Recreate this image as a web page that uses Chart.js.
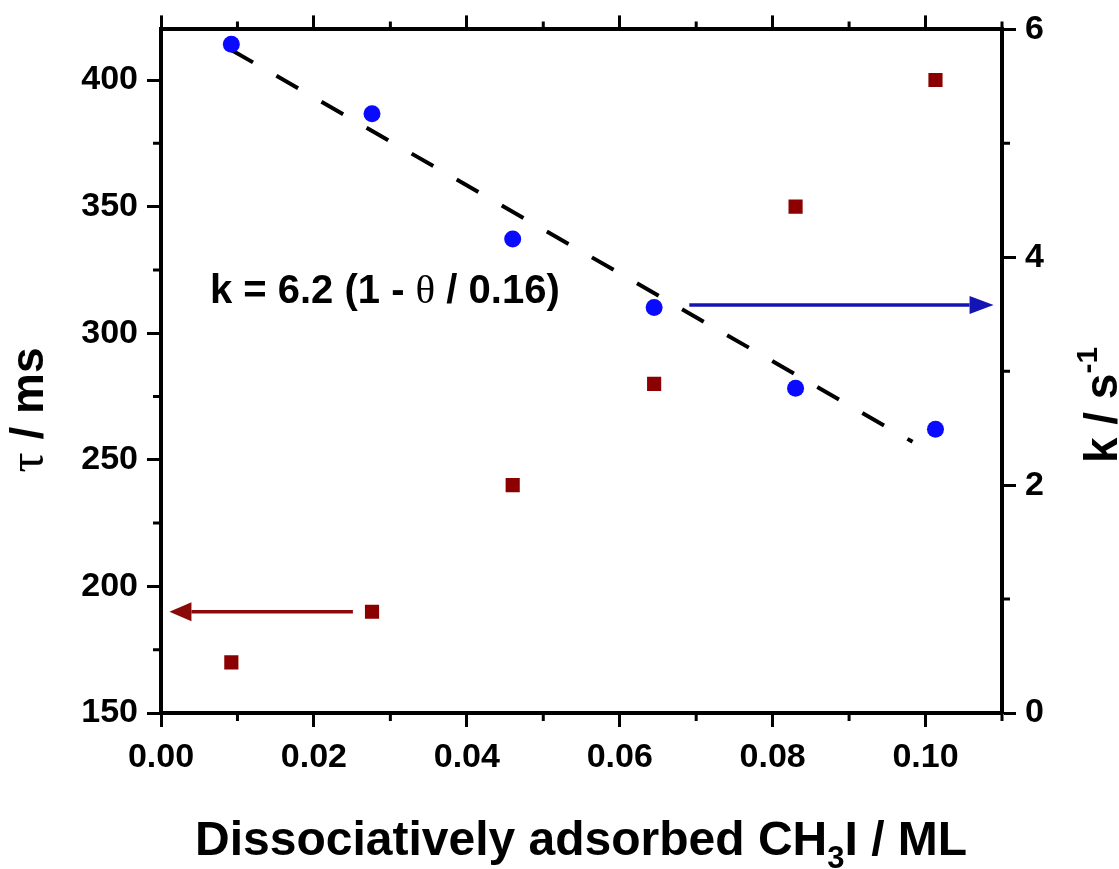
<!DOCTYPE html>
<html>
<head>
<meta charset="utf-8">
<script src="https://cdn.jsdelivr.net/npm/chart.js@4.4.0/dist/chart.umd.min.js"></script>
<style>
  html, body { margin: 0; padding: 0; background: #fff; }
  canvas { display: block; }
</style>
</head>
<body>
<canvas id="chart" width="1119" height="869"></canvas>
<script>
// data
const coverage = [0.0092, 0.0276, 0.046, 0.0645, 0.083, 0.1013];
const tauMs = [170, 190, 240, 280, 350, 400];
const kRate = [5.87, 5.26, 4.16, 3.56, 2.85, 2.49];
const fitTheta = [0.0092, 0.0983];
const fitK = [5.82, 2.38];

const xTicks = [0, 0.02, 0.04, 0.06, 0.08, 0.10];
const xMinor = [0.01, 0.03, 0.05, 0.07, 0.09, 0.11];
const tauTicks = [150, 200, 250, 300, 350, 400];
const tauMinor = [175, 225, 275, 325, 375];
const kTicks = [0, 2, 4, 6];
const kMinor = [1, 3, 5];

// arrows pointing to the axis each series belongs to
const kArrowX = [0.0691, 0.1089];
const kArrowY = 3.58;
const tauArrowX = [0.0251, 0.0011];
const tauArrowY = 190;

const SANS = '"Liberation Sans", Arial, sans-serif';
const SERIF = '"Liberation Serif", "Times New Roman", serif';

function setTicks(list) {
  return scale => { scale.ticks = list.map(v => ({ value: v })); };
}

function drawRuns(ctx, runs, x, y, align) {
  let total = 0;
  runs.forEach(r => { ctx.font = r.font; r.w = ctx.measureText(r.text).width; total += r.w; });
  let cx = align === 'center' ? x - total / 2 : x;
  runs.forEach(r => {
    ctx.font = r.font;
    ctx.fillText(r.text, cx, y + (r.dy || 0));
    cx += r.w;
  });
}

function arrow(ctx, x1, y1, x2, y2, color, headLen, headHalf) {
  const dir = Math.sign(x2 - x1);
  ctx.strokeStyle = color;
  ctx.fillStyle = color;
  ctx.lineWidth = 3.5;
  ctx.beginPath();
  ctx.moveTo(x1, y1);
  ctx.lineTo(x2 - dir * headLen, y2);
  ctx.stroke();
  ctx.beginPath();
  ctx.moveTo(x2, y2);
  ctx.lineTo(x2 - dir * headLen, y2 - headHalf);
  ctx.lineTo(x2 - dir * headLen, y2 + headHalf);
  ctx.closePath();
  ctx.fill();
}

const extras = {
  id: 'extras',
  afterDraw(chart) {
    const ctx = chart.ctx;
    const { x, y, y2 } = chart.scales;
    const area = chart.chartArea;
    ctx.save();

    // minor ticks
    ctx.strokeStyle = '#000';
    ctx.lineWidth = 3;
    ctx.beginPath();
    xMinor.forEach(v => {
      const px = x.getPixelForValue(v);
      ctx.moveTo(px, area.bottom); ctx.lineTo(px, area.bottom + 8);
      ctx.moveTo(px, area.top); ctx.lineTo(px, area.top - 8);
    });
    tauMinor.forEach(v => {
      const py = y.getPixelForValue(v);
      ctx.moveTo(area.left, py); ctx.lineTo(area.left - 8, py);
    });
    kMinor.forEach(v => {
      const py = y2.getPixelForValue(v);
      ctx.moveTo(area.right, py); ctx.lineTo(area.right + 8, py);
    });
    ctx.stroke();

    // arrows
    arrow(ctx, x.getPixelForValue(kArrowX[0]), y2.getPixelForValue(kArrowY),
          x.getPixelForValue(kArrowX[1]), y2.getPixelForValue(kArrowY), '#1414b4', 24, 9);
    arrow(ctx, x.getPixelForValue(tauArrowX[0]), y.getPixelForValue(tauArrowY),
          x.getPixelForValue(tauArrowX[1]), y.getPixelForValue(tauArrowY), '#8a0a0a', 22, 9.5);

    ctx.fillStyle = '#000';
    ctx.textBaseline = 'alphabetic';

    // fit annotation
    drawRuns(ctx, [
      { text: 'k = 6.2 (1 - ', font: 'bold 40px ' + SANS },
      { text: 'θ', font: '41px ' + SERIF },
      { text: ' / 0.16)', font: 'bold 40px ' + SANS }
    ], x.getPixelForValue(0.0064), y2.getPixelForValue(3.6), 'left');

    // bottom title
    drawRuns(ctx, [
      { text: 'Dissociatively adsorbed CH', font: 'bold 48px ' + SANS },
      { text: '3', font: 'bold 31px ' + SANS, dy: 13 },
      { text: 'I / ML', font: 'bold 48px ' + SANS }
    ], 195, 855, 'left');

    // left title
    ctx.save();
    ctx.translate(43, 410);
    ctx.rotate(-Math.PI / 2);
    drawRuns(ctx, [
      { text: 'τ', font: '50px ' + SERIF },
      { text: ' / ms', font: 'bold 46px ' + SANS }
    ], 0, 0, 'center');
    ctx.restore();

    // right title
    ctx.save();
    ctx.translate(1117, 405);
    ctx.rotate(-Math.PI / 2);
    drawRuns(ctx, [
      { text: 'k / s', font: 'bold 46px ' + SANS },
      { text: '-1', font: 'bold 30px ' + SANS, dy: -20 }
    ], 0, 0, 'center');
    ctx.restore();

    ctx.restore();
  }
};

const gridOpts = {
  drawOnChartArea: false,
  drawTicks: true,
  tickLength: 14,
  tickWidth: 3,
  tickColor: '#000',
  color: '#000'
};
const borderOpts = { display: true, width: 4, color: '#000' };
const tickFont = { family: SANS, size: 34, weight: 'bold' };

new Chart(document.getElementById('chart'), {
  type: 'scatter',
  data: {
    datasets: [
      {
        label: 'tau',
        data: coverage.map((v, i) => ({ x: v, y: tauMs[i] })),
        yAxisID: 'y',
        pointStyle: 'rect',
        pointRadius: 10,
        backgroundColor: '#8b0000',
        borderColor: '#8b0000',
        borderWidth: 0
      },
      {
        label: 'k',
        data: coverage.map((v, i) => ({ x: v, y: kRate[i] })),
        yAxisID: 'y2',
        pointStyle: 'circle',
        pointRadius: 8.5,
        backgroundColor: '#0a0aff',
        borderColor: '#0a0aff',
        borderWidth: 0
      },
      {
        type: 'line',
        label: 'fit',
        data: fitTheta.map((v, i) => ({ x: v, y: fitK[i] })),
        yAxisID: 'y2',
        borderColor: '#000',
        borderWidth: 4,
        borderDash: [25, 27],
        pointRadius: 0,
        fill: false
      }
    ]
  },
  options: {
    responsive: false,
    animation: false,
    layout: { padding: 0 },
    plugins: {
      legend: { display: false },
      tooltip: { enabled: false }
    },
    scales: {
      x: {
        type: 'linear',
        position: 'bottom',
        min: 0,
        max: 0.11,
        afterBuildTicks: setTicks(xTicks),
        afterFit: s => { s.height = 156; },
        grid: gridOpts,
        border: borderOpts,
        ticks: {
          color: '#000',
          font: tickFont,
          padding: 10,
          maxRotation: 0,
          callback: v => v.toFixed(2)
        }
      },
      x2: {
        type: 'linear',
        position: 'top',
        min: 0,
        max: 0.11,
        afterBuildTicks: setTicks(xTicks),
        afterFit: s => { s.height = 29; },
        grid: gridOpts,
        border: borderOpts,
        ticks: { display: false }
      },
      y: {
        type: 'linear',
        position: 'left',
        min: 150,
        max: 420,
        afterBuildTicks: setTicks(tauTicks),
        afterFit: s => { s.width = 161; },
        grid: gridOpts,
        border: borderOpts,
        ticks: { color: '#000', font: tickFont, padding: 9 }
      },
      y2: {
        type: 'linear',
        position: 'right',
        min: 0,
        max: 6,
        afterBuildTicks: setTicks(kTicks),
        afterFit: s => { s.width = 117; },
        grid: gridOpts,
        border: borderOpts,
        ticks: { color: '#000', font: tickFont, padding: 9 }
      }
    }
  },
  plugins: [extras]
});
</script>
</body>
</html>
